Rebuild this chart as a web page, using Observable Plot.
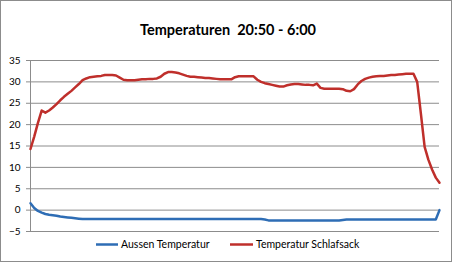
<!DOCTYPE html>
<html><head><meta charset="utf-8">
<script src="https://cdn.jsdelivr.net/npm/d3@7"></script>
<script src="https://cdn.jsdelivr.net/npm/@observablehq/plot@0.6"></script>
<style>
body{margin:0;background:#fff;}
#wrap{position:relative;width:454px;height:263px;}
#frame{position:absolute;left:0;top:0;width:450px;height:260px;border:1px solid #8c8c8c;pointer-events:none;}
#chart{position:absolute;left:0;top:0;}
</style>
</head><body>
<div id="wrap"><div id="chart"></div><div id="frame"></div></div>
<script>
const title = "Temperaturen  20:50 - 6:00";
const seriesNames = ["Aussen Temperatur", "Temperatur Schlafsack"];
const seriesColors = ["#2e6db5", "#bf2f2b"];
const yTicks = [-5, 0, 5, 10, 15, 20, 25, 30, 35];

// readings every 5 minutes, 20:50 .. 6:00
const aussen = [
  1.6, 0.5, -0.2, -0.6, -0.9, -1.1, -1.2, -1.3, -1.5, -1.6,
  -1.7, -1.8, -1.9, -2.0, -2.1, -2.1, -2.1, -2.1, -2.1, -2.1,
  -2.1, -2.1, -2.1, -2.1, -2.1, -2.1, -2.1, -2.1, -2.1, -2.1,
  -2.1, -2.1, -2.1, -2.1, -2.1, -2.1, -2.1, -2.1, -2.1, -2.1,
  -2.1, -2.1, -2.1, -2.1, -2.1, -2.1, -2.1, -2.1, -2.1, -2.1,
  -2.1, -2.1, -2.1, -2.1, -2.1, -2.1, -2.1, -2.1, -2.1, -2.1,
  -2.1, -2.1, -2.1, -2.2, -2.4, -2.4, -2.4, -2.4, -2.4, -2.4,
  -2.4, -2.4, -2.4, -2.4, -2.4, -2.4, -2.4, -2.4, -2.4, -2.4,
  -2.4, -2.4, -2.4, -2.4, -2.3, -2.2, -2.2, -2.2, -2.2, -2.2,
  -2.2, -2.2, -2.2, -2.2, -2.2, -2.2, -2.2, -2.2, -2.2, -2.2,
  -2.2, -2.2, -2.2, -2.2, -2.2, -2.2, -2.2, -2.2, -2.2, -2.2,
  0.0
];
const schlafsack = [
  14.3, 17.2, 20.4, 23.3, 22.8, 23.3, 24.0, 24.8, 25.7, 26.5,
  27.2, 27.9, 28.7, 29.5, 30.4, 30.8, 31.1, 31.2, 31.3, 31.4,
  31.6, 31.6, 31.6, 31.5, 31.0, 30.5, 30.4, 30.4, 30.4, 30.5,
  30.6, 30.6, 30.7, 30.7, 30.8, 31.2, 31.9, 32.3, 32.3, 32.2,
  32.0, 31.7, 31.4, 31.2, 31.2, 31.1, 31.0, 30.9, 30.9, 30.8,
  30.7, 30.6, 30.6, 30.6, 30.6, 31.1, 31.3, 31.3, 31.3, 31.3,
  31.3, 30.5, 30.0, 29.7, 29.5, 29.3, 29.1, 28.9, 28.9, 29.2,
  29.4, 29.5, 29.5, 29.4, 29.3, 29.3, 29.2, 29.6, 28.6, 28.4,
  28.4, 28.4, 28.4, 28.4, 28.3, 27.9, 27.8, 28.3, 29.4, 30.2,
  30.7, 31.0, 31.2, 31.3, 31.4, 31.4, 31.5, 31.6, 31.6, 31.7,
  31.8, 31.9, 31.9, 31.9, 30.0, 22.5, 14.8, 11.8, 9.5, 7.6,
  6.4
];

const font = "Lato, 'Liberation Sans', sans-serif";
const W = 454, H = 263;

const chart = Plot.plot({
  width: W, height: H,
  marginLeft: 30, marginRight: 15, marginTop: 60, marginBottom: 32,
  style: {fontFamily: font, fontSize: "10px", color: "#000", background: "transparent"},
  x: {domain: [0, aussen.length - 1], axis: null},
  y: {domain: [-5, 35], ticks: yTicks},
  marks: [
    Plot.ruleY(yTicks, {stroke: "#8c8c8c", strokeWidth: 1, strokeOpacity: 1}),
    Plot.ruleX([0], {y1: -5, y2: 35, stroke: "#8c8c8c"}),
    Plot.axisY({ticks: yTicks, tickSize: 4, tickPadding: 6, stroke: "#8c8c8c", fill: "#000", fontSize: 10, label: null}),
    Plot.line(aussen, {x: (d, i) => i, y: d => d, stroke: seriesColors[0], strokeWidth: 2.5}),
    Plot.line(schlafsack, {x: (d, i) => i, y: d => d, stroke: seriesColors[1], strokeWidth: 2.5})
  ]
});
document.getElementById("chart").appendChild(chart);

const svg = d3.select(chart);
svg.append("text").attr("x", 228).attr("y", 35).attr("text-anchor", "middle")
  .attr("font-family", font).attr("font-size", 14.5).attr("font-weight", "bold")
  .attr("fill", "#000").style("white-space", "pre").text(title);

const legendPos = [{x1: 96, x2: 118, tx: 121}, {x1: 230, x2: 253, tx: 256}];
seriesNames.forEach((name, k) => {
  const p = legendPos[k];
  svg.append("line").attr("x1", p.x1).attr("x2", p.x2).attr("y1", 244.5).attr("y2", 244.5)
    .attr("stroke", seriesColors[k]).attr("stroke-width", 2.5);
  svg.append("text").attr("x", p.tx).attr("y", 248).attr("text-anchor", "start")
    .attr("font-family", font).attr("font-size", 10.5).attr("fill", "#000").text(name);
});
</script>
</body></html>
